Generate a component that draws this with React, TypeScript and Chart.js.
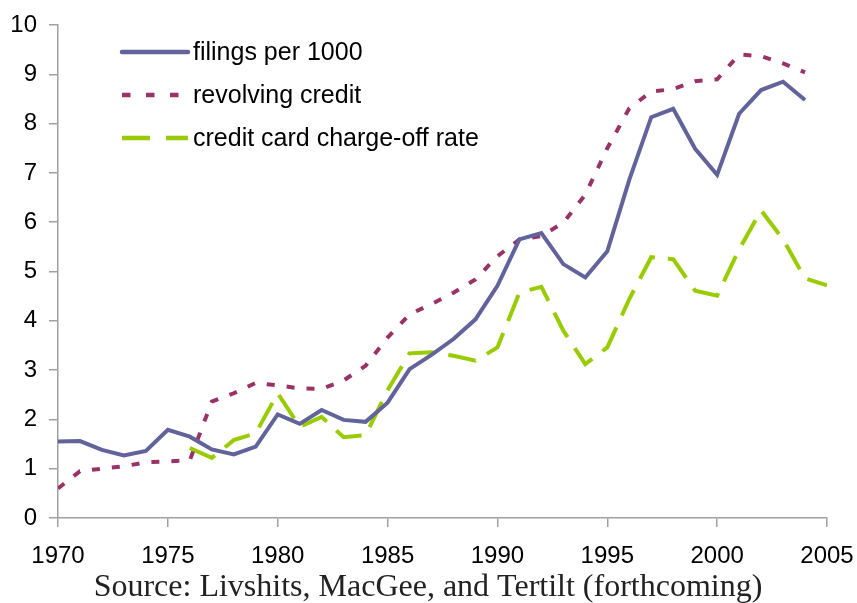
import React, { useEffect, useRef } from "react";
import { Chart, registerables } from "chart.js";

Chart.register(...registerables);

const years = [
  1970, 1971, 1972, 1973, 1974, 1975, 1976, 1977, 1978, 1979,
  1980, 1981, 1982, 1983, 1984, 1985, 1986, 1987, 1988, 1989,
  1990, 1991, 1992, 1993, 1994, 1995, 1996, 1997, 1998, 1999,
  2000, 2001, 2002, 2003, 2004, 2005,
];

const filingsPer1000 = [
  1.55, 1.56, 1.38, 1.27, 1.36, 1.79, 1.65, 1.39, 1.29, 1.45,
  2.10, 1.91, 2.19, 1.99, 1.95, 2.34, 3.02, 3.31, 3.63, 4.03,
  4.71, 5.65, 5.78, 5.15, 4.88, 5.41, 6.86, 8.13, 8.30, 7.49,
  6.96, 8.20, 8.68, 8.85, 8.48, null,
];

const revolvingCredit = [
  0.60, 0.95, 1.00, 1.05, 1.13, 1.15, 1.17, 2.36, 2.53, 2.74,
  2.69, 2.63, 2.62, 2.79, 3.09, 3.66, 4.13, 4.34, 4.57, 4.84,
  5.31, 5.65, 5.72, 5.99, 6.56, 7.50, 8.31, 8.65, 8.70, 8.86,
  8.90, 9.40, 9.37, 9.22, 9.04, null,
];

const chargeOffRate = [
  null, null, null, null, null, null, 1.42, 1.22, 1.58, 1.72,
  2.53, 1.85, 2.05, 1.64, 1.68, 2.59, 3.34, 3.36, 3.29, 3.19,
  3.46, 4.57, 4.69, 3.80, 3.12, 3.46, 4.44, 5.29, 5.25, 4.61,
  4.51, 5.45, 6.24, 5.65, 4.86, 4.72,
];

const seriesLabels = ["filings per 1000", "revolving credit", "credit card charge-off rate"];
const sourceNote = "Source: Livshits, MacGee, and Tertilt (forthcoming)";

const toPoints = (vals: (number | null)[]) =>
  years.map((yr, i) => ({ x: yr, y: vals[i] }));

const legendDash: Record<number, number[]> = { 0: [], 1: [8.5, 15.5], 2: [28, 16] };

const overlayPlugin = {
  id: "overlay",
  afterDraw(chart: any) {
    const ctx = chart.ctx as CanvasRenderingContext2D;
    const area = chart.chartArea;
    ctx.save();
    // legend
    const x0 = area.left + 64;
    const x1 = area.left + 130;
    const rowY = [area.top + 27, area.top + 70, area.top + 113];
    chart.data.datasets.forEach((ds: any, i: number) => {
      const y = rowY[i];
      ctx.beginPath();
      ctx.strokeStyle = ds.borderColor;
      ctx.lineWidth = 4.5;
      ctx.lineCap = i === 0 ? "round" : "butt";
      ctx.setLineDash(legendDash[i] || []);
      ctx.moveTo(x0, y);
      ctx.lineTo(x1, y);
      ctx.stroke();
      ctx.setLineDash([]);
      ctx.fillStyle = "#000";
      ctx.font = "25px 'Liberation Sans', Arial, sans-serif";
      ctx.textAlign = "left";
      ctx.textBaseline = "middle";
      ctx.fillText(ds.label, x1 + 5, y + 1);
    });
    // source note
    ctx.fillStyle = "#222";
    ctx.font = "32px 'Liberation Serif', 'Times New Roman', serif";
    ctx.textAlign = "center";
    ctx.textBaseline = "alphabetic";
    ctx.fillText(sourceNote, 428, 596);
    ctx.restore();
  },
};

export default function App() {
  const ref = useRef<HTMLCanvasElement | null>(null);

  useEffect(() => {
    document.body.style.margin = "0";
    const canvas = ref.current;
    if (!canvas) return;
    const axisColor = "#a0a0a0";
    const chart = new Chart(canvas, {
      type: "line",
      data: {
        datasets: [
          {
            label: seriesLabels[0],
            data: toPoints(filingsPer1000),
            borderColor: "#62639b",
            borderWidth: 4,
            pointRadius: 0,
            tension: 0,
            spanGaps: false,
          },
          {
            label: seriesLabels[1],
            data: toPoints(revolvingCredit),
            borderColor: "#993366",
            borderWidth: 4,
            borderDash: [8, 12],
            borderCapStyle: "butt",
            pointRadius: 0,
            tension: 0,
            spanGaps: false,
          },
          {
            label: seriesLabels[2],
            data: toPoints(chargeOffRate),
            borderColor: "#99cc00",
            borderWidth: 4,
            borderDash: [28, 13],
            borderCapStyle: "butt",
            pointRadius: 0,
            tension: 0,
            spanGaps: false,
          },
        ],
      },
      options: {
        responsive: false,
        animation: false,
        events: [],
        layout: { padding: { left: 0, right: 30, top: 25, bottom: 0 } },
        plugins: {
          legend: { display: false },
          tooltip: { enabled: false },
          title: { display: false },
        },
        scales: {
          x: {
            type: "linear",
            min: 1970,
            max: 2005,
            afterFit: (s: any) => {
              s.height = 85;
              s.paddingLeft = 0;
              s.paddingRight = 0;
            },
            ticks: {
              stepSize: 5,
              color: "#000",
              padding: 15,
              maxRotation: 0,
              font: { family: "'Liberation Sans', Arial, sans-serif", size: 24 },
              callback: (v: any) => String(v),
            },
            grid: {
              display: true,
              drawOnChartArea: false,
              drawTicks: true,
              tickLength: 9,
              color: axisColor,
              lineWidth: 1.5,
            },
            border: { display: true, color: axisColor, width: 1.5 },
          },
          y: {
            min: 0,
            max: 10,
            afterFit: (s: any) => {
              s.width = 58;
              s.paddingTop = 0;
              s.paddingBottom = 0;
            },
            ticks: {
              stepSize: 1,
              color: "#000",
              padding: 12,
              font: { family: "'Liberation Sans', Arial, sans-serif", size: 24 },
            },
            grid: {
              display: true,
              drawOnChartArea: false,
              drawTicks: true,
              tickLength: 9,
              color: axisColor,
              lineWidth: 1.5,
            },
            border: { display: true, color: axisColor, width: 1.5 },
          },
        },
      },
      plugins: [overlayPlugin],
    });
    return () => chart.destroy();
  }, []);

  return (
    <div style={{ width: 857, height: 603, background: "#fff" }}>
      <canvas ref={ref} width={857} height={603} style={{ display: "block" }} />
    </div>
  );
}
